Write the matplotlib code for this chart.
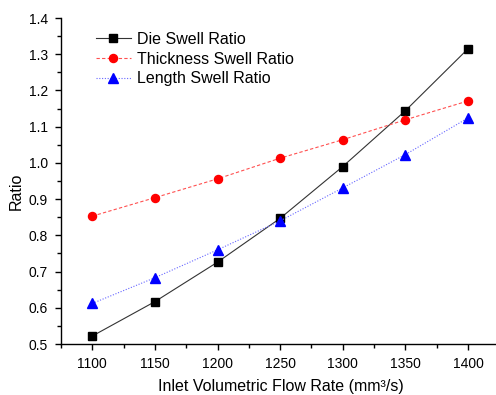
import matplotlib
matplotlib.use("Agg")
import matplotlib.pyplot as plt
from matplotlib.ticker import MultipleLocator, FormatStrFormatter

plt.rcParams['font.family'] = ['Liberation Sans', 'DejaVu Sans']

flow = [1100, 1150, 1200, 1250, 1300, 1350, 1400]
die_swell = [0.522, 0.617, 0.726, 0.847, 0.990, 1.144, 1.315]
thickness_swell = [0.853, 0.904, 0.956, 1.013, 1.064, 1.119, 1.171]
length_swell = [0.612, 0.683, 0.760, 0.840, 0.931, 1.023, 1.124]

fig = plt.figure(figsize=(4.96, 3.95), dpi=100)
ax = fig.add_axes([61/496, 1-344/395, 438.3/496, 326/395])

ax.plot(flow, die_swell, color='#333333', lw=0.8, ls='-', marker='s', ms=5.3,
        mfc='black', mec='black', label='Die Swell Ratio')
ax.plot(flow, thickness_swell, color='#ff5050', lw=0.8, ls=(0, (3, 2)), marker='o', ms=5.8,
        mfc='red', mec='red', label='Thickness Swell Ratio')
ax.plot(flow, length_swell, color='#6666ff', lw=0.8, ls=(0, (1, 1.5)), marker='^', ms=6.5,
        mfc='blue', mec='blue', label='Length Swell Ratio')

ax.set_xlim(1075, 1425)
ax.set_ylim(0.5, 1.4)
ax.xaxis.set_major_locator(MultipleLocator(50))
ax.xaxis.set_minor_locator(MultipleLocator(25))
ax.yaxis.set_major_locator(MultipleLocator(0.1))
ax.yaxis.set_minor_locator(MultipleLocator(0.05))
ax.yaxis.set_major_formatter(FormatStrFormatter('%.1f'))

for s in ['top', 'right']:
    ax.spines[s].set_visible(False)
for s in ['left', 'bottom']:
    ax.spines[s].set_linewidth(1.0)

ax.tick_params(which='major', direction='out', length=4.5, width=1, labelsize=10, colors='black', pad=4)
ax.tick_params(which='minor', direction='out', length=3, width=1)
ax.tick_params(axis='x', which='major', pad=5)
ax.tick_params(axis='y', which='major', pad=5)

ax.set_xlabel('Inlet Volumetric Flow Rate (mm³/s)', fontsize=11.5, va='baseline')
ax.xaxis.set_label_coords(0.501, -0.143)
ax.set_ylabel('Ratio', fontsize=11.5, va='center')
ax.yaxis.set_label_coords(-0.103, 0.468)

leg = ax.legend(loc='upper left', bbox_to_anchor=(0.065, 0.977), frameon=False, fontsize=11.5,
                handlelength=2.2, handletextpad=0.35, labelspacing=0.3, borderaxespad=0)

fig.savefig('out.png', dpi=100)
